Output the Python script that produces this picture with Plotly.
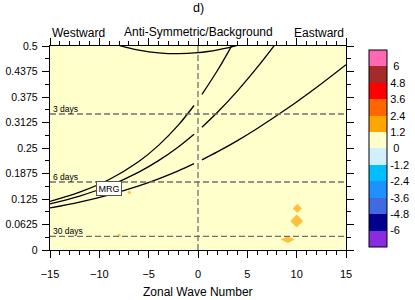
import plotly.graph_objects as go

# ---------------- data ----------------
# MRG (westward, n=0) curves for three equivalent depths
mrg_k = [-15, -12, -9, -6, -4, -2, -0.4]
mrg_h12 = [0.1030, 0.1174, 0.1352, 0.1571, 0.1745, 0.1941, 0.2117]
mrg_h40 = [0.1132, 0.1323, 0.1575, 0.1909, 0.2190, 0.2526, 0.2838]
mrg_h100 = [0.1192, 0.1417, 0.1728, 0.2169, 0.2564, 0.3060, 0.3542]

# n=0 EIG (eastward) curves
eig_k_h12 = [0.4, 2, 4, 6, 9, 12, 15]
eig_h12 = [0.2210, 0.2410, 0.2681, 0.2977, 0.3460, 0.3984, 0.4543]
eig_k_h40 = [0.4, 2, 4, 6, 8]
eig_h40 = [0.3009, 0.3381, 0.3900, 0.4474, 0.5096]
eig_k_h100 = [0.4, 2, 3, 4]
eig_h100 = [0.3812, 0.4412, 0.4826, 0.5268]

# n=2 inertio-gravity curve near the top
ig_k = [-8, -7.5, -6, -4, -2, 0, 1, 2, 3, 4]
ig_f = [0.5015, 0.4982, 0.4901, 0.4833, 0.4812, 0.4836, 0.4865, 0.4905, 0.4955, 0.5014]

# significant (orange) patches
blob_k = [-6.96, -8.0, 10.07, 10.0, 9.1]
blob_f = [0.141, 0.036, 0.102, 0.071, 0.026]
blob_val = [1.8, 1.8, 1.8, 1.8, 1.8]

# period reference lines
period_days = [3, 6, 30]
period_labels = ["3 days", "6 days", "30 days"]

# axis ticks
x_ticks = [-15, -10, -5, 0, 5, 10, 15]
y_ticks = [0, 0.0625, 0.125, 0.1875, 0.25, 0.3125, 0.375, 0.4375, 0.5]
y_ticklabels = ["0", "0.0625", "0.125", "0.1875", "0.25", "0.3125", "0.375", "0.4375", "0.5"]

# colour bar levels / colours
cb_levels = [-6, -4.8, -3.6, -2.4, -1.2, 0, 1.2, 2.4, 3.6, 4.8, 6]
cb_labels = ["-6", "-4.8", "-3.6", "-2.4", "-1.2", "0", "1.2", "2.4", "3.6", "4.8", "6"]
cb_colors = ["#8A2BE2", "#00008F", "#4169E1", "#1E90FF", "#00BFFF", "#D2EFFF",
             "#FFFFCC", "#FFA500", "#FF6600", "#FF0000", "#A52A2A", "#FF69B4"]

# ---------------- figure ----------------
FONT = "Liberation Sans, Arial, Helvetica, sans-serif"
n = len(cb_colors)
colorscale = []
for i, c in enumerate(cb_colors):
    colorscale.append([i / n, c])
    colorscale.append([(i + 1) / n, c])
cmin, cmax = -7.2, 7.2

W, H = 415, 300
PL, PR, PT, PB = 50, 346, 46, 250          # plot box in pixels
ML, MR, MT, MB = PL, W - PR, PT, H - PB
PW, PH = PR - PL, PB - PT


def px_to_paper_x(px):
    return (px - PL) / PW


def px_to_paper_y(py):
    return (PB - py) / PH


fig = go.Figure()

line_style = dict(color="black", width=1.3, shape="spline")
for xs, ys in [(mrg_k, mrg_h12), (mrg_k, mrg_h40), (mrg_k, mrg_h100),
               (eig_k_h12, eig_h12), (eig_k_h40, eig_h40), (eig_k_h100, eig_h100),
               (ig_k, ig_f)]:
    fig.add_trace(go.Scatter(x=xs, y=ys, mode="lines", line=line_style,
                             showlegend=False, hoverinfo="skip", cliponaxis=True))

# period lines
for p in period_days:
    fig.add_shape(type="line", xref="x", yref="y", x0=-15, x1=15, y0=1 / p, y1=1 / p,
                  line=dict(color="#707070", width=1.3, dash="6px,3px"))
fig.add_shape(type="line", xref="x", yref="y", x0=0, x1=0, y0=0, y1=0.5,
              line=dict(color="#707070", width=1.3, dash="6px,3px"))

for p, lab in zip(period_days, period_labels):
    fig.add_annotation(x=-15, y=1 / p, xref="x", yref="y", text=lab, showarrow=False,
                       xanchor="left", yanchor="bottom", xshift=1, yshift=-2,
                       font=dict(family=FONT, size=8.5, color="black"))

# blobs + colour bar
sizes = [3, 4, 7, 10, 10]
symbols = ["diamond", "triangle-up", "diamond", "diamond", "diamond-wide"]
CB_L, CB_R, CB_T, CB_B = 369, 387, 50, 247
cb_text = [("\u00a0" + t) if len(t) == 1 else t for t in cb_labels]
fig.add_trace(go.Scatter(
    x=blob_k, y=blob_f, mode="markers", showlegend=False, hoverinfo="skip",
    marker=dict(color=blob_val, colorscale=colorscale, cmin=cmin, cmax=cmax,
                size=sizes, symbol=symbols, line=dict(width=0),
                showscale=True,
                colorbar=dict(x=px_to_paper_x(CB_L), xanchor="left", xpad=0, ypad=0,
                              y=px_to_paper_y((CB_T + CB_B) / 2), yanchor="middle",
                              lenmode="pixels", len=CB_B - CB_T, thickness=CB_R - CB_L,
                              thicknessmode="pixels",
                              outlinewidth=1, outlinecolor="black",
                              tickvals=cb_levels, ticktext=cb_text,
                              ticks="", ticklabelposition="outside",
                              tickfont=dict(family=FONT, size=11, color="black"))),
))

# separators between colour boxes
box_h = (CB_B - CB_T) / n
for i in range(1, n):
    yp = px_to_paper_y(CB_B - i * box_h)
    fig.add_shape(type="line", xref="paper", yref="paper",
                  x0=px_to_paper_x(CB_L), x1=px_to_paper_x(CB_R), y0=yp, y1=yp,
                  line=dict(color="black", width=0.8))

# MRG label
fig.add_annotation(x=-9.05, y=0.151, xref="x", yref="y", text="MRG", showarrow=False,
                   bgcolor="white", bordercolor="#555555", borderwidth=1, borderpad=1.5,
                   font=dict(family=FONT, size=9, color="black"))

# top labels
fig.add_annotation(x=0, y=1, xref="paper", yref="paper", text="Westward", showarrow=False,
                   xanchor="left", yanchor="bottom", yshift=4,
                   font=dict(family=FONT, size=12, color="black"))
fig.add_annotation(x=0.5, y=1, xref="paper", yref="paper", text="Anti-Symmetric/Background",
                   showarrow=False, xanchor="center", yanchor="bottom", yshift=5,
                   font=dict(family=FONT, size=12, color="black"))
fig.add_annotation(x=1, y=1, xref="paper", yref="paper", text="Eastward", showarrow=False,
                   xanchor="right", yanchor="bottom", yshift=4,
                   font=dict(family=FONT, size=12, color="black"))
fig.add_annotation(x=0.5, y=1, xref="paper", yref="paper", text="d)", showarrow=False,
                   xanchor="center", yanchor="bottom", yshift=29,
                   font=dict(family=FONT, size=12.5, color="black"))
fig.add_annotation(x=0.5, y=0, xref="paper", yref="paper", text="Zonal Wave Number",
                   showarrow=False, xanchor="center", yanchor="middle", yshift=-42,
                   font=dict(family=FONT, size=12, color="black"))

axis_common = dict(showgrid=False, zeroline=False, showline=True, linecolor="black",
                   linewidth=1.3, mirror="ticks", ticks="outside", ticklen=7,
                   tickwidth=1, tickcolor="black", automargin=False)

fig.update_layout(
    width=W, height=H,
    margin=dict(l=ML, r=MR, t=MT, b=MB, autoexpand=False),
    paper_bgcolor="white", plot_bgcolor="#FFFFCC",
    font=dict(family=FONT, color="black"),
    hovermode=False,
    xaxis=dict(range=[-15, 15], tickvals=x_ticks, ticklabelstandoff=6,
               tickfont=dict(family=FONT, size=11, color="black"),
               minor=dict(dtick=1, ticklen=4, ticks="outside", tickcolor="black", tickwidth=1),
               **axis_common),
    yaxis=dict(range=[0, 0.5], tickvals=y_ticks, ticktext=y_ticklabels, ticklabelstandoff=2,
               tickfont=dict(family=FONT, size=10.5, color="black"),
               minor=dict(dtick=0.03125, ticklen=4, ticks="outside", tickcolor="black", tickwidth=1),
               **axis_common),
)

# remove the default 8px page margin so the 415x300 figure fills the window exactly
fig.write_html("out.html", config={"displayModeBar": False, "staticPlot": True},
               post_script="document.body.style.margin='0px';document.body.style.overflow='hidden';")
